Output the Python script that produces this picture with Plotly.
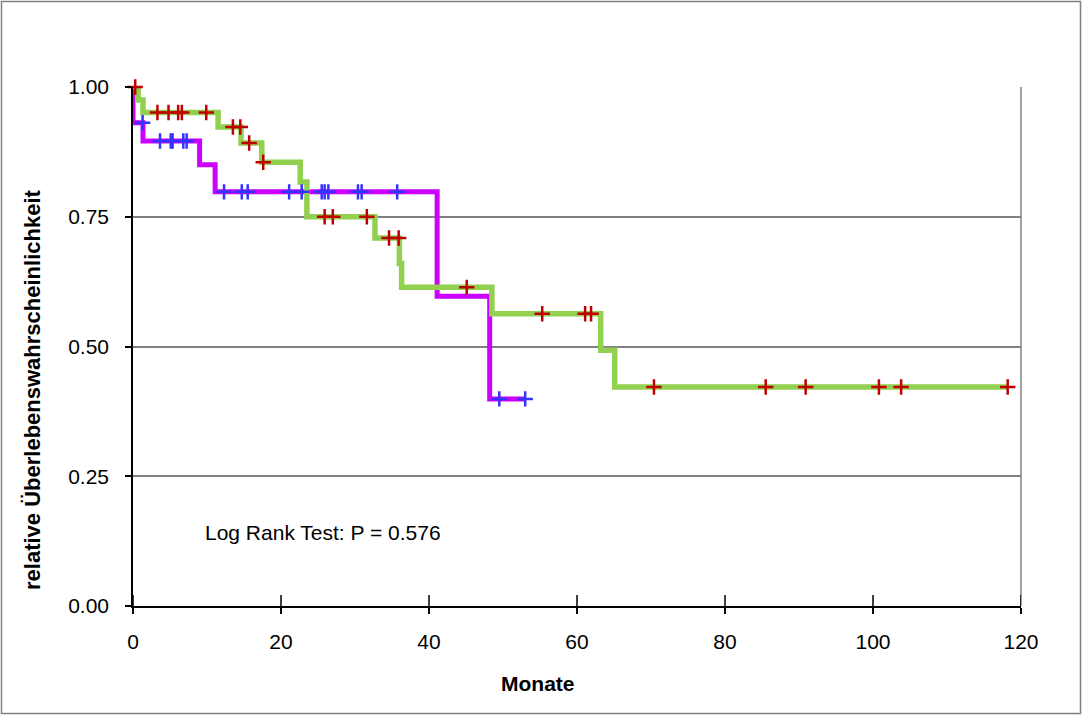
import plotly.graph_objects as go

# Group A (green line, red censor marks)
green_t = [0, 0.7, 1.35, 11.5, 14.6, 17.4, 22.6, 23.5, 32.7, 36.0, 36.3, 48.5, 63.2, 65.1, 118.2]
green_s = [1.0, 0.975, 0.951, 0.923, 0.892, 0.855, 0.817, 0.75, 0.709, 0.660, 0.614, 0.563, 0.493, 0.422, 0.422]
red_t = [0.3, 3.3, 4.8, 6.1, 6.6, 9.9, 13.5, 14.5, 15.7, 17.6, 25.9, 27.0, 31.6, 34.6, 35.9,
         45.1, 55.3, 61.1, 61.9, 70.4, 85.5, 90.9, 100.8, 103.8, 118.2]
red_s = [1.0, 0.951, 0.951, 0.951, 0.951, 0.951, 0.923, 0.923, 0.892, 0.855, 0.75, 0.75, 0.75, 0.709, 0.709,
         0.614, 0.563, 0.563, 0.563, 0.422, 0.422, 0.422, 0.422, 0.422, 0.422]

# Group B (magenta line, blue censor marks)
mag_t = [0, 0, 1.35, 9.0, 11.1, 41.1, 48.2, 53.0]
mag_s = [1.0, 0.931, 0.896, 0.85, 0.798, 0.597, 0.399, 0.399]
blue_t = [1.3, 3.65, 5.1, 5.35, 6.8, 7.25, 12.3, 14.7, 15.5, 21.1, 22.8, 25.5, 25.9, 26.4,
          30.4, 30.9, 35.7, 49.5, 53.0]
blue_s = [0.931, 0.896, 0.896, 0.896, 0.896, 0.896, 0.798, 0.798, 0.798, 0.798, 0.798, 0.798,
          0.798, 0.798, 0.798, 0.798, 0.798, 0.399, 0.399]

x_ticks = [0, 20, 40, 60, 80, 100, 120]
y_ticks = [0.0, 0.25, 0.5, 0.75, 1.0]
annot_text = "Log Rank Test: P = 0.576"
x_title = "Monate"
y_title = "relative Überlebenswahrscheinlichkeit"

FONT = "Liberation Sans, Arial, sans-serif"

fig = go.Figure()
fig.add_trace(go.Scatter(x=mag_t, y=mag_s, mode="lines", line=dict(color="#CC00FF", width=5, shape="hv"),
                         hoverinfo="skip"))
fig.add_trace(go.Scatter(x=green_t, y=green_s, mode="lines", line=dict(color="#92D050", width=5.5, shape="hv"),
                         hoverinfo="skip"))
fig.add_trace(go.Scatter(x=blue_t, y=blue_s, mode="markers", cliponaxis=False,
                         marker=dict(symbol="cross-thin", size=11, line=dict(color="#3333FF", width=2.5))))
fig.add_trace(go.Scatter(x=red_t, y=red_s, mode="markers", cliponaxis=False,
                         marker=dict(symbol="cross-thin", size=11, line=dict(color="#C00000", width=2.5))))

W, H = 1082, 715
L, R, T, B = 133, 1021, 87, 606
pw, ph = R - L, B - T

def px(x):
    return (x - L) / pw

def py(y):
    return (B - y) / ph

shapes = [
    # plot area right border (gray)
    dict(type="line", xref="paper", yref="paper", x0=1, x1=1, y0=0, y1=1,
         line=dict(color="#808080", width=1.5)),
    # outer chart border
    dict(type="rect", xref="paper", yref="paper", x0=px(1.5), x1=px(1080.5), y0=py(713.5), y1=py(1.5),
         line=dict(color="#808080", width=1.5), layer="below"),
]
# inner part of the crossing x-axis tick marks
for v in x_ticks:
    shapes.append(dict(type="line", xref="x", yref="paper", x0=v, x1=v, y0=0, y1=11 / ph,
                       line=dict(color="black", width=1.5)))

annotations = [
    dict(text=annot_text, x=9.4, y=0.141, xref="x", yref="y", xanchor="left",
         yanchor="middle", showarrow=False, font=dict(size=21, family=FONT, color="black")),
    dict(text="<b>%s</b>" % x_title, x=px(538), y=py(683), xref="paper", yref="paper",
         xanchor="center", yanchor="middle", showarrow=False, font=dict(size=21, family=FONT, color="black")),
    dict(text="<b>%s</b>" % y_title, x=px(32), y=py(390), xref="paper", yref="paper", textangle=-90,
         xanchor="center", yanchor="middle", showarrow=False, font=dict(size=22, family=FONT, color="black")),
]

fig.update_layout(
    width=W, height=H,
    margin=dict(l=L, r=W - R, t=T, b=H - B, pad=0),
    paper_bgcolor="white", plot_bgcolor="white",
    showlegend=False,
    font=dict(family=FONT, size=21, color="black"),
    shapes=shapes,
    annotations=annotations,
    xaxis=dict(range=[0, 120], tickvals=x_ticks, ticktext=[str(v) for v in x_ticks],
               showgrid=False, zeroline=False, showline=True, linecolor="black", linewidth=1.5,
               ticks="outside", ticklen=6, tickcolor="black", tickwidth=1.5,
               ticklabelstandoff=10),
    yaxis=dict(range=[0, 1], tickvals=y_ticks, ticktext=["%.2f" % v for v in y_ticks],
               showgrid=True, gridcolor="#808080", gridwidth=1.5, zeroline=False,
               showline=True, linecolor="black", linewidth=1.5,
               ticks="outside", ticklen=6, tickcolor="black", tickwidth=1.5,
               ticklabelstandoff=12),
)

fig.write_html("out.html", config={"displayModeBar": False},
               post_script="document.body.style.margin='0';document.body.style.overflow='hidden';")
